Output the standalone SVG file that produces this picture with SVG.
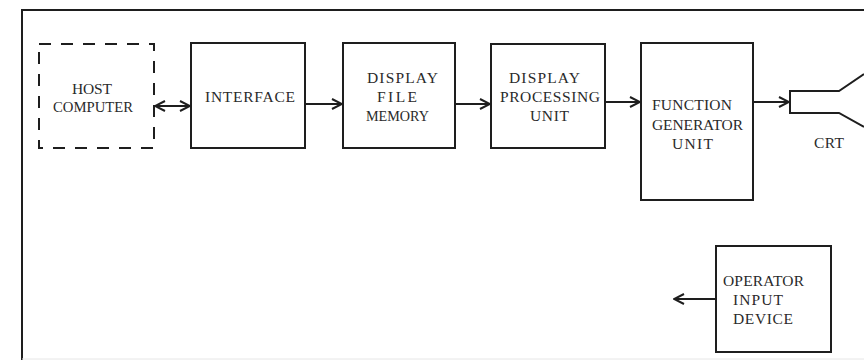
<svg xmlns="http://www.w3.org/2000/svg" width="864" height="361" viewBox="0 0 864 361">
<defs>
<style>
.box{fill:none;stroke:#1e1e1e;stroke-width:2}
.dash{fill:none;stroke:#1e1e1e;stroke-width:2;stroke-dasharray:12 10}
.ln{fill:none;stroke:#1e1e1e;stroke-width:2}
.t{font-family:"Liberation Serif","Times New Roman",serif;font-size:15.5px;fill:#2a2a2a}
</style>
<marker id="ah" viewBox="0 0 12 12" refX="11" refY="6" markerWidth="12" markerHeight="12" markerUnits="userSpaceOnUse" orient="auto-start-reverse">
<path d="M1,1 L11,6 L1,11" fill="none" stroke="#1e1e1e" stroke-width="2"/>
</marker>
</defs>
<rect width="864" height="361" fill="#ffffff"/>
<g id="frame">
<path class="ln" d="M22,360 L22,10 L864,10"/>
<path d="M22,359 L864,359" stroke="#e6e6e6" stroke-width="1" fill="none"/>
</g>
<g id="host">
<rect class="dash" x="39" y="44" width="115" height="104"/>
<text class="t" x="72" y="94" textLength="40" lengthAdjust="spacing">HOST</text>
<text class="t" x="53" y="112" textLength="80" lengthAdjust="spacingAndGlyphs">COMPUTER</text>
</g>
<g id="interface">
<rect class="box" x="191" y="43" width="114" height="105"/>
<text class="t" x="205" y="102" textLength="90" lengthAdjust="spacing">INTERFACE</text>
</g>
<g id="dfm">
<rect class="box" x="343" y="43" width="112" height="105"/>
<text class="t" x="367" y="83" textLength="71" lengthAdjust="spacing">DISPLAY</text>
<text class="t" x="377" y="102" textLength="40" lengthAdjust="spacing">FILE</text>
<text class="t" x="366" y="121" textLength="63" lengthAdjust="spacingAndGlyphs">MEMORY</text>
</g>
<g id="dpu">
<rect class="box" x="491" y="44" width="114" height="104"/>
<text class="t" x="509" y="83" textLength="71" lengthAdjust="spacing">DISPLAY</text>
<text class="t" x="500" y="102" textLength="100" lengthAdjust="spacing">PROCESSING</text>
<text class="t" x="530" y="121" textLength="39" lengthAdjust="spacing">UNIT</text>
</g>
<g id="fgu">
<rect class="box" x="641" y="43" width="112" height="157"/>
<text class="t" x="652" y="110" textLength="80" lengthAdjust="spacing">FUNCTION</text>
<text class="t" x="652" y="130" textLength="91" lengthAdjust="spacing">GENERATOR</text>
<text class="t" x="672" y="149" textLength="41" lengthAdjust="spacing">UNIT</text>
</g>
<g id="crt">
<path class="ln" d="M864,74 L839,91 L790,91 L790,113 L839,113 L864,127"/>
<text class="t" x="814" y="148" textLength="30" lengthAdjust="spacing">CRT</text>
</g>
<g id="oid">
<rect class="box" x="716" y="246" width="115" height="106"/>
<text class="t" x="723" y="286" textLength="81" lengthAdjust="spacing">OPERATOR</text>
<text class="t" x="733" y="305" textLength="50" lengthAdjust="spacing">INPUT</text>
<text class="t" x="733" y="324" textLength="60" lengthAdjust="spacing">DEVICE</text>
</g>
<g id="connectors">
<line class="ln" x1="155" y1="106" x2="190" y2="106" marker-start="url(#ah)" marker-end="url(#ah)"/>
<line class="ln" x1="305" y1="104" x2="342" y2="104" marker-end="url(#ah)"/>
<line class="ln" x1="455" y1="104" x2="490" y2="104" marker-end="url(#ah)"/>
<line class="ln" x1="605" y1="102" x2="640" y2="102" marker-end="url(#ah)"/>
<line class="ln" x1="753" y1="102" x2="789" y2="102" marker-end="url(#ah)"/>
<line class="ln" x1="716" y1="299" x2="674" y2="299" marker-end="url(#ah)"/>
</g>
</svg>
